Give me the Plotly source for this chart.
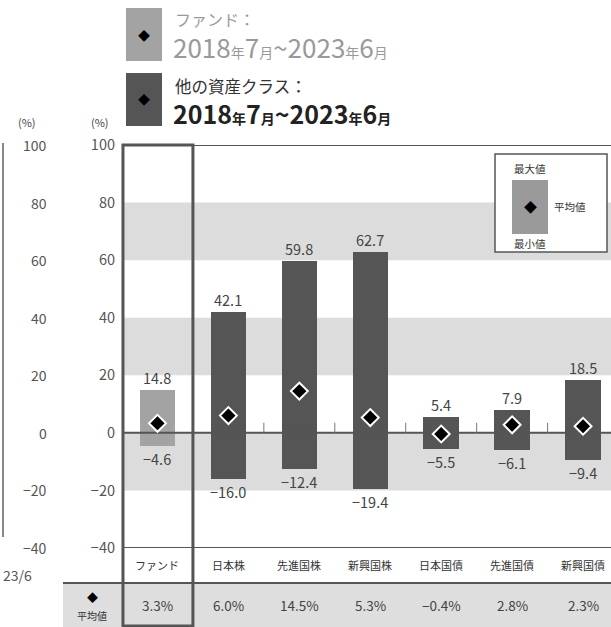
import plotly.graph_objects as go

categories = ["ファンド", "日本株", "先進国株", "新興国株", "日本国債", "先進国債", "新興国債"]
max_vals = [14.8, 42.1, 59.8, 62.7, 5.4, 7.9, 18.5]
min_vals = [-4.6, -16.0, -12.4, -19.4, -5.5, -6.1, -9.4]
avg_vals = [3.3, 6.0, 14.5, 5.3, -0.4, 2.8, 2.3]
y_ticks = [100, 80, 60, 40, 20, 0, -20, -40]
bands = [(60, 80), (20, 40), (-20, 0)]
legend_period = "2018<span style='font-size:14px'>年</span>7<span style='font-size:14px'>月</span>~2023<span style='font-size:14px'>年</span>6<span style='font-size:14px'>月</span>"

W, H = 611, 627
L, R, T, B = 122, 611, 145, 548
XMIN, XMAX = -0.5, 6.394
YMIN, YMAX = -40, 100

FONT = "Noto Sans CJK JP"
DARK = "#555555"
LIGHT = "#a3a3a3"
BAND = "#dcdcdc"
TXT = "#444444"


def px(xp):
    return (xp - L) / (R - L)


def py(yp):
    return (B - yp) / (B - T)


idx = list(range(len(categories)))
colors = [LIGHT] + [DARK] * (len(categories) - 1)

fig = go.Figure()
fig.add_trace(go.Bar(
    x=idx, y=[mx - mn for mx, mn in zip(max_vals, min_vals)], base=min_vals,
    width=0.5, marker=dict(color=colors, line=dict(width=0)), hoverinfo="skip",
))
# zero line (drawn above bars)
fig.add_trace(go.Scatter(x=[XMIN, XMAX], y=[0, 0], mode="lines",
                         line=dict(color=DARK, width=2), hoverinfo="skip"))
# small ticks between categories
tx, ty = [], []
for i in range(len(categories) - 1):
    tx += [i + 0.5, i + 0.5, None]
    ty += [0, 3.5, None]
fig.add_trace(go.Scatter(x=tx, y=ty, mode="lines", line=dict(color="#777777", width=1), hoverinfo="skip"))
# average markers
fig.add_trace(go.Scatter(
    x=idx, y=avg_vals, mode="markers",
    marker=dict(symbol="diamond", size=13, color="black", line=dict(color="white", width=2)),
    hoverinfo="skip",
))

shapes = []
for lo, hi in bands:
    shapes.append(dict(type="rect", xref="paper", yref="y", x0=0, x1=1, y0=lo, y1=hi,
                       fillcolor=BAND, line=dict(width=0), layer="below"))
# average row background
shapes.append(dict(type="rect", xref="paper", yref="paper", x0=px(63), x1=1, y0=py(627), y1=py(583),
                   fillcolor="#dedede", line=dict(width=0), layer="below"))
# horizontal rules
shapes.append(dict(type="line", xref="paper", yref="paper", x0=px(63), x1=1, y0=py(583), y1=py(583),
                   line=dict(color=DARK, width=2)))
shapes.append(dict(type="line", xref="paper", yref="y", x0=0, x1=1, y0=YMIN, y1=YMIN,
                   line=dict(color=DARK, width=2)))
shapes.append(dict(type="line", xref="paper", yref="y", x0=0, x1=1, y0=YMAX, y1=YMAX,
                   line=dict(color=DARK, width=2)))
# fund box
fx0 = (0 - 0.5 - XMIN) / (XMAX - XMIN)
fx1 = (0 + 0.5 - XMIN) / (XMAX - XMIN)
shapes.append(dict(type="rect", xref="paper", yref="paper", x0=fx0 + 0.002, x1=fx1, y0=py(626), y1=1,
                   line=dict(color=DARK, width=3), fillcolor="rgba(0,0,0,0)"))
# left partial chart vertical line
shapes.append(dict(type="line", xref="paper", yref="paper", x0=px(3), x1=px(3), y0=py(537), y1=py(143),
                   line=dict(color="#888888", width=2)))
# legend squares
shapes.append(dict(type="rect", xref="paper", yref="paper", x0=px(126), x1=px(162), y0=py(61), y1=py(8),
                   fillcolor=LIGHT, line=dict(width=0)))
shapes.append(dict(type="rect", xref="paper", yref="paper", x0=px(126), x1=px(162), y0=py(126), y1=py(73),
                   fillcolor=DARK, line=dict(width=0)))
# small key box
shapes.append(dict(type="rect", xref="paper", yref="paper", x0=px(495), x1=px(607), y0=py(252), y1=py(154),
                   fillcolor="white", line=dict(color=DARK, width=1.5)))
shapes.append(dict(type="rect", xref="paper", yref="paper", x0=px(512), x1=px(548), y0=py(234), y1=py(180),
                   fillcolor="#9a9a9a", line=dict(width=0)))


def A(x, y, text, size, color=TXT, xref="paper", yref="paper", xanchor="center", yanchor="middle", **kw):
    d = dict(x=x, y=y, xref=xref, yref=yref, text=text, showarrow=False, xanchor=xanchor, yanchor=yanchor,
             font=dict(size=size, color=color, family=FONT))
    d.update(kw)
    return d


ann = []
for i in idx:
    ann.append(A(i, max_vals[i], f"{max_vals[i]:.1f}", 14.5, xref="x", yref="y", yanchor="bottom", yshift=0))
    ann.append(A(i, min_vals[i], f"{min_vals[i]:.1f}".replace("-", "−"), 14.5, xref="x", yref="y",
                 yanchor="top", yshift=0))
    ann.append(A(i, py(565), categories[i], 11, color="#333333", xref="x"))
    ann.append(A(i, py(605), f"{avg_vals[i]:.1f}%".replace("-", "−"), 13.5, xref="x"))
# average row label
ann.append(A(px(92), py(597), "◆", 11, color="black"))
ann.append(A(px(92), py(615), "平均値", 10, color="#333333"))
# (%) labels
for xp in (27, 100):
    ann.append(A(px(xp), py(122), "(%)", 11))
# left partial axis labels
for v in y_ticks:
    ann.append(A(px(49), v, str(v).replace("-", "−"), 14, color="#555555", yref="y", xanchor="right"))
ann.append(A(px(34), py(575), "23/6", 14, color="#555555", xanchor="right"))
# legend texts
ann.append(A(px(173), py(19), "ファンド：", 16, color="#999999", xanchor="left"))
ann.append(A(px(171), py(47), legend_period, 26, color="#999999", xanchor="left"))
ann.append(A(px(173), py(86), "他の資産クラス：", 16.5, color="#333333", xanchor="left"))
ann.append(A(px(171), py(113), "<b>" + legend_period + "</b>", 25, color="#222222", xanchor="left"))
# key box texts
ann.append(A(px(530), py(168), "最大値", 10.5, color="#333333"))
ann.append(A(px(530), py(243), "最小値", 10.5, color="#333333"))
ann.append(A(px(552), py(206), "平均値", 10.5, color="#333333", xanchor="left"))
ann.append(A(px(530), py(206), "◆", 13, color="black"))
# legend diamonds
ann.append(A(px(144), py(35), "◆", 12, color="black"))
ann.append(A(px(144), py(100), "◆", 12, color="black"))

fig.update_layout(
    width=W, height=H,
    margin=dict(l=L, r=W - R, t=T, b=H - B),
    paper_bgcolor="white", plot_bgcolor="rgba(0,0,0,0)",
    showlegend=False, bargap=0,
    shapes=shapes, annotations=ann,
    xaxis=dict(range=[XMIN, XMAX], showticklabels=False, showgrid=False, zeroline=False, ticks="",
               fixedrange=True),
    yaxis=dict(range=[YMIN, YMAX], tickvals=y_ticks, ticktext=[str(v).replace("-", "−") for v in y_ticks],
               showgrid=False, zeroline=False, ticks="", ticklabelstandoff=6,
               tickfont=dict(size=14.5, color="#555555", family=FONT), fixedrange=True),
    font=dict(family=FONT),
)

fig.write_html("out.html", config={"displayModeBar": False})
